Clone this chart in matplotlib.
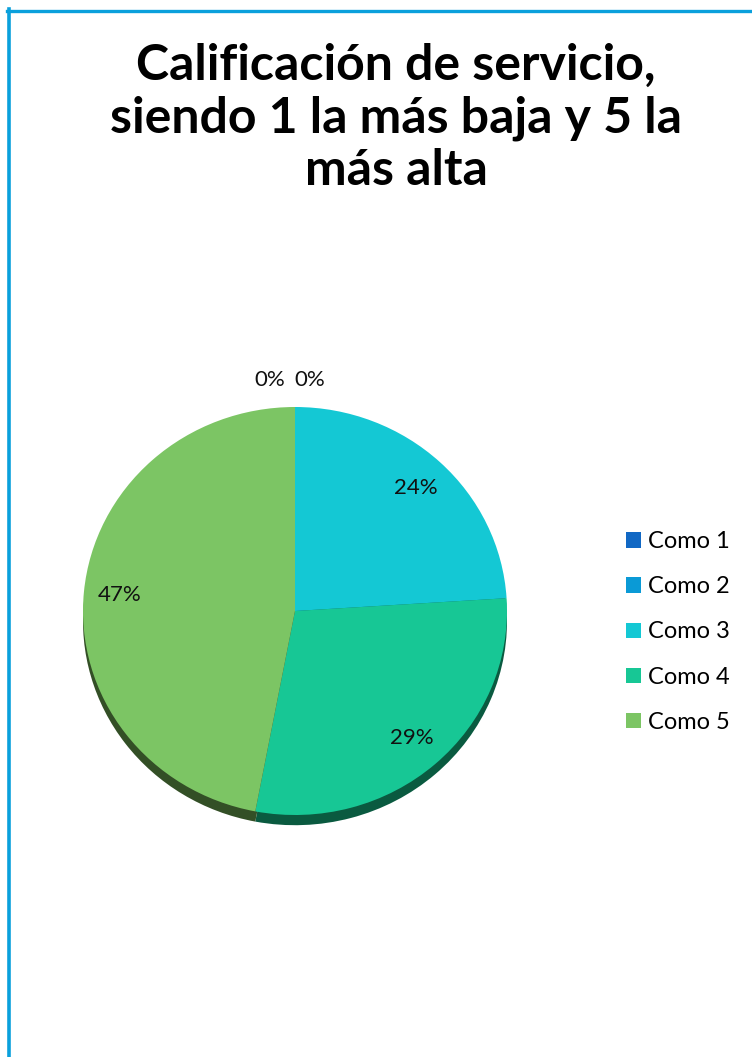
import matplotlib.pyplot as plt
from matplotlib.lines import Line2D
import numpy as np

plt.rcParams['font.family'] = ['Lato', 'DejaVu Sans']

categories = ['Como 1', 'Como 2', 'Como 3', 'Como 4', 'Como 5']
values = [0, 0, 24, 29, 47]
colors = ['#1168c4', '#0a9ad6', '#14c8d4', '#17c795', '#7cc564']
rim_colors = ['#0a3a6e', '#065a7c', '#0a6a72', '#0a5a40', '#334f26']
title = 'Calificación de servicio,\nsiendo 1 la más baja y 5 la\nmás alta'

W, H = 752, 1057
fig = plt.figure(figsize=(W / 100, H / 100), dpi=100)

# frame: left and top edges of the chart box
edge = '#0aa0dc'
fig.add_artist(Line2D([8.5 / W, 8.5 / W], [0, 1 - 9 / H], color=edge, lw=2.6,
                      transform=fig.transFigure))
fig.add_artist(Line2D([7.2 / W, 1], [1 - 10.5 / H, 1 - 10.5 / H], color=edge,
                      lw=2.4, transform=fig.transFigure))

fig.text(396 / W, 1 - 118 / H, title, ha='center', va='center',
         fontsize=36, fontweight='bold', linespacing=1.2)

# pie axes, pixel geometry
cx, cy = 295, 611
rx, ry = 212, 204
left, right = 50, 540
bot, top = 186, 706
ax = fig.add_axes([left / W, bot / H, (right - left) / W, (top - bot) / H])

# dark rim underneath for the tilted look
ax.pie(values, colors=rim_colors, startangle=90, counterclock=False,
       center=(0, -0.05), radius=1.0,
       wedgeprops=dict(linewidth=0))
wedges, _ = ax.pie(values, colors=colors, startangle=90, counterclock=False,
                   radius=1.0, wedgeprops=dict(linewidth=0))
ax.set_aspect('auto')
ax.set_xlim(-(cx - left) / rx, (right - cx) / rx)
ax.set_ylim(-((H - cy) - bot) / ry, (top - (H - cy)) / ry)
ax.axis('off')

# percentage labels
total = sum(values)
start = 90.0
zero_shift = [-0.12, 0.07]
zi = 0
for v in values:
    sweep = 360.0 * v / total
    mid = np.deg2rad(start - sweep / 2)
    txt = '{:.0f}%'.format(100.0 * v / total)
    if v == 0:
        x, y = zero_shift[zi], 1.13
        zi += 1
    else:
        x, y = 0.83 * np.cos(mid), 0.83 * np.sin(mid)
    ax.text(x, y, txt, ha='center', va='center', fontsize=16, color='#111111')
    start -= sweep

ax.legend(wedges, categories, loc='center left',
          bbox_to_anchor=((626 - left) / (right - left), (H - 632 - bot) / (top - bot)),
          frameon=False, fontsize=17, handlelength=0.62, handleheight=0.62,
          handletextpad=0.3, labelspacing=1.02, borderpad=0, borderaxespad=0)

fig.savefig('out.png', dpi=100, facecolor='white')
